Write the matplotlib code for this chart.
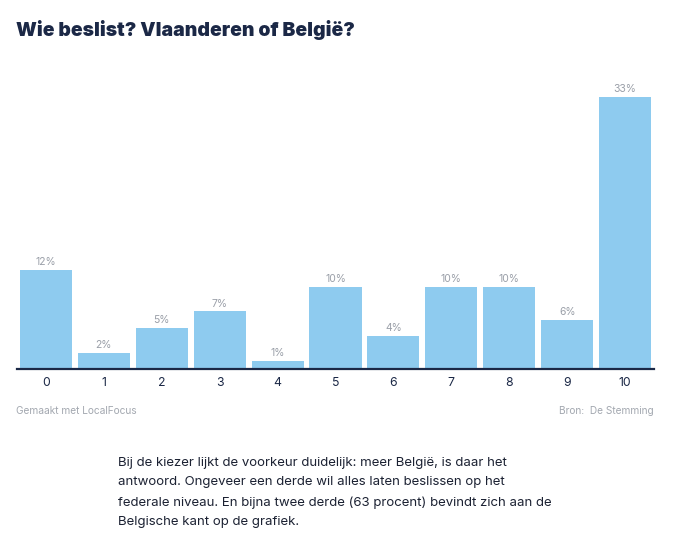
import matplotlib.pyplot as plt

plt.rcParams['font.family'] = ['Inter', 'DejaVu Sans']

# data
categories = ['0', '1', '2', '3', '4', '5', '6', '7', '8', '9', '10']
values = [12, 2, 5, 7, 1, 10, 4, 10, 10, 6, 33]

title = 'Wie beslist? Vlaanderen of België?'
footer_left = 'Gemaakt met LocalFocus'
footer_right = 'Bron:  De Stemming'
paragraph = ('Bij de kiezer lijkt de voorkeur duidelijk: meer België, is daar het\n'
             'antwoord. Ongeveer een derde wil alles laten beslissen op het\n'
             'federale niveau. En bijna twee derde (63 procent) bevindt zich aan de\n'
             'Belgische kant op de grafiek.')

W, H = 680, 556
fig = plt.figure(figsize=(W / 100, H / 100), dpi=100)

# axes: x 17..654 px, baseline at y=369, top of 33% bar at y=97
left, right = 17, 654
base, top = 369, 97
ax = fig.add_axes([left / W, 1 - base / H, (right - left) / W, (base - top) / H])

bar_color = '#8ecbef'
navy = '#1b2846'

x = range(len(categories))
ax.bar(x, values, width=0.9, color=bar_color, zorder=2)
for i, v in enumerate(values):
    ax.annotate(f'{v}%', (i, v), xytext=(0, 2), textcoords='offset points',
                ha='center', va='bottom', fontsize=7.5, color='#9a9fa8')

ax.set_xlim(-0.5, len(categories) - 0.5)
ax.set_ylim(0, max(values))
ax.set_xticks(list(x))
ax.set_xticklabels(categories, fontsize=8.8, color=navy)
ax.tick_params(axis='x', length=0, pad=6)
ax.set_yticks([])
for s in ['top', 'right', 'left']:
    ax.spines[s].set_visible(False)
ax.spines['bottom'].set_color(navy)
ax.spines['bottom'].set_linewidth(1.6)
ax.spines['bottom'].set_zorder(3)
ax.patch.set_alpha(0)

fig.text(16 / W, 1 - 30 / H, title, fontsize=13.9, fontweight=900,
         color=navy, va='center', ha='left')
fig.text(16 / W, 1 - 411 / H, footer_left, fontsize=7.3, color='#a3a8b0',
         va='center', ha='left')
fig.text(654 / W, 1 - 411 / H, footer_right, fontsize=7.3, color='#a3a8b0',
         va='center', ha='right')
fig.text(118 / W, 1 - 457 / H, paragraph, fontsize=9.5, color='#1c2233',
         va='top', ha='left', linespacing=1.82)

fig.savefig('out.png', dpi=100)
